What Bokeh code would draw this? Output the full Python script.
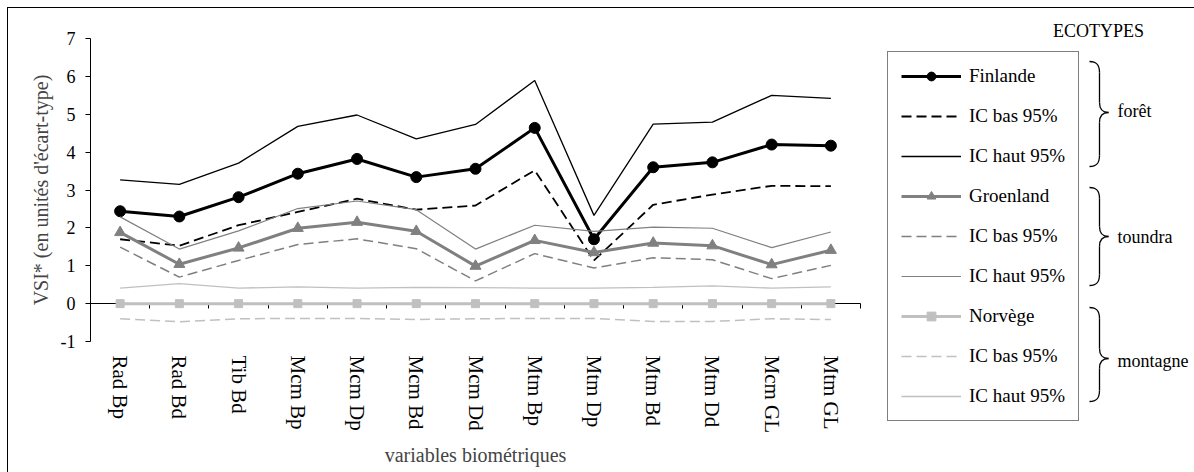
from bokeh.plotting import figure
from bokeh.models import (Range1d, FixedTicker, LinearAxis, Legend, LegendItem,
                          CustomJSTickFormatter)
from bokeh.embed import file_html
from bokeh.resources import INLINE
from bokeh.core.properties import value

# ---------------- data ----------------
categories = ["Rad Bp", "Rad Bd", "Tib Bd", "Mcm Bp", "Mcm Dp", "Mcm Bd", "Mcm Dd",
              "Mtm Bp", "Mtm Dp", "Mtm Bd", "Mtm Dd", "Mcm GL", "Mtm GL"]

finlande = [2.44, 2.30, 2.81, 3.43, 3.82, 3.34, 3.56, 4.64, 1.70, 3.60, 3.73, 4.20, 4.17]
finlande_bas = [1.70, 1.53, 2.07, 2.42, 2.77, 2.48, 2.59, 3.52, 1.14, 2.61, 2.88, 3.11, 3.10]
finlande_haut = [3.27, 3.15, 3.71, 4.68, 4.98, 4.35, 4.73, 5.89, 2.33, 4.74, 4.79, 5.50, 5.42]

groenland = [1.88, 1.04, 1.47, 1.99, 2.15, 1.91, 0.99, 1.67, 1.35, 1.60, 1.53, 1.03, 1.41]
groenland_bas = [1.49, 0.70, 1.14, 1.56, 1.71, 1.45, 0.60, 1.32, 0.94, 1.21, 1.16, 0.66, 1.01]
groenland_haut = [2.29, 1.44, 1.92, 2.51, 2.71, 2.48, 1.44, 2.07, 1.91, 2.02, 1.99, 1.48, 1.89]

norvege = [0.0, 0.0, 0.0, 0.0, 0.0, 0.0, 0.0, 0.0, 0.0, 0.0, 0.0, 0.0, 0.0]
norvege_bas = [-0.40, -0.48, -0.40, -0.39, -0.39, -0.42, -0.40, -0.39, -0.39, -0.47, -0.47, -0.40, -0.42]
norvege_haut = [0.41, 0.53, 0.41, 0.44, 0.41, 0.43, 0.42, 0.41, 0.41, 0.43, 0.47, 0.41, 0.44]

y_ticks = [-1, 0, 1, 2, 3, 4, 5, 6, 7]
legend_labels = ["Finlande", "IC bas 95%", "IC haut 95%",
                 "Groenland", "IC bas 95%", "IC haut 95%",
                 "Norvège", "IC bas 95%", "IC haut 95%"]
groups = ["forêt", "toundra", "montagne"]

FONT = "Liberation Serif, Times New Roman, serif"
BLACK, GREY, LIGHT = "#000000", "#808080", "#c0c0c0"

series = [
    (finlande, dict(line_color=BLACK, line_width=3), ("circle", 11, BLACK)),
    (finlande_bas, dict(line_color=BLACK, line_width=1.8, line_dash="10 5"), None),
    (finlande_haut, dict(line_color=BLACK, line_width=1.3), None),
    (groenland, dict(line_color=GREY, line_width=3), ("triangle", 11, GREY)),
    (groenland_bas, dict(line_color=GREY, line_width=1.5, line_dash="10 5"), None),
    (groenland_haut, dict(line_color=GREY, line_width=1.2), None),
    (norvege, dict(line_color=LIGHT, line_width=3), ("square", 8, LIGHT)),
    (norvege_bas, dict(line_color=LIGHT, line_width=1.5, line_dash="10 5"), None),
    (norvege_haut, dict(line_color=LIGHT, line_width=1.3), None),
]

xs = list(range(1, len(categories) + 1))
n = len(categories)

# ---------------- layout geometry (canvas pixels) ----------------
W, H = 1186, 464
PLOT_L, PLOT_R, PLOT_T, PLOT_B = 82, 852, 30, 333      # data area inside the canvas
x_px = (PLOT_R - PLOT_L) / n                           # px per category
y_px = (PLOT_B - PLOT_T) / (y_ticks[-1] - y_ticks[0])  # px per unit
x_range = Range1d(0.5 - PLOT_L / x_px, n + 0.5 + (W - PLOT_R) / x_px)
y_range = Range1d(y_ticks[0] - (H - PLOT_B) / y_px, y_ticks[-1] + PLOT_T / y_px)

p = figure(width=W, height=H, x_range=x_range, y_range=y_range,
           output_backend="svg", toolbar_location=None,
           x_axis_type=None, y_axis_type=None, min_border=0)
p.outline_line_color = None
p.background_fill_color = "white"
p.border_fill_color = "white"
p.styles = {"position": "relative", "left": "8px", "top": "8px",
            "outline": "1px solid black"}

# helper ranges in page-pixel units for the decorations beside the legend
p.extra_x_ranges = {"px": Range1d(8, 8 + W)}
p.extra_y_ranges = {"py": Range1d(8 + H, 8)}

yaxis = LinearAxis(fixed_location=0.5, bounds=(y_ticks[0], y_ticks[-1]),
                   ticker=FixedTicker(ticks=y_ticks),
                   major_label_overrides={-1: "-1"},
                   axis_label="VSI* (en unités d'écart-type)")
yaxis.major_tick_out = 5
yaxis.major_tick_in = 0
yaxis.minor_tick_line_color = None
yaxis.axis_line_color = BLACK
yaxis.major_label_standoff = 10
yaxis.major_label_text_font = FONT
yaxis.major_label_text_font_size = "18px"
yaxis.major_label_text_color = BLACK
yaxis.axis_label_text_font = FONT
yaxis.axis_label_text_font_style = "normal"
yaxis.axis_label_text_font_size = "20px"
yaxis.axis_label_standoff = 6
p.add_layout(yaxis, "left")

xcat = LinearAxis(fixed_location=y_ticks[0], bounds=(0.5, n + 0.5),
                  ticker=FixedTicker(ticks=xs),
                  major_label_overrides={x: c for x, c in zip(xs, categories)},
                  axis_label="variables biométriques")
xcat.major_label_orientation = "vertical"
xcat.axis_line_color = None
xcat.major_tick_line_color = None
xcat.minor_tick_line_color = None
xcat.major_label_standoff = 8
xcat.major_label_text_font = FONT
xcat.major_label_text_font_size = "21px"
xcat.major_label_text_color = BLACK
xcat.axis_label_text_font = FONT
xcat.axis_label_text_font_style = "normal"
xcat.axis_label_text_font_size = "20px"
xcat.axis_label_standoff = 8
p.add_layout(xcat, "below")

# horizontal axis line at y = 0 with tick marks between categories (drawn under the series)
xzero = LinearAxis(fixed_location=0, bounds=(0.5, n + 0.5),
                   ticker=FixedTicker(ticks=[x - 0.5 for x in xs] + [n + 0.5]),
                   formatter=CustomJSTickFormatter(code="return ''"))
xzero.major_tick_in = 0
xzero.major_tick_out = 5
xzero.minor_tick_line_color = None
xzero.axis_line_color = BLACK
xzero.major_label_standoff = 0
xzero.major_label_text_font_size = "1px"
xzero.level = "underlay"
p.add_layout(xzero, "below")

items = []
for label, (vals, lstyle, marker) in zip(legend_labels, series):
    rs = [p.line(xs, vals, **lstyle)]
    if marker is not None:
        m, s, c = marker
        rs.append(p.scatter(xs, vals, marker=m, size=s, fill_color=c, line_color=c))
    items.append(LegendItem(label=label, renderers=rs))

# legend box: left at page x=887, bottom at page y=421
legend = Legend(items=items, location=(887 - 8, 8 + H - 421))
legend.border_line_color = BLACK
legend.border_line_width = 1
legend.background_fill_color = "white"
legend.background_fill_alpha = 1
legend.label_text_font = FONT
legend.label_text_font_size = "19px"
legend.label_text_color = BLACK
legend.glyph_width = 60
legend.glyph_height = 22
legend.label_height = 22
legend.spacing = 18
legend.padding = 13
legend.margin = 0
legend.label_standoff = 8
p.add_layout(legend, "center")

p.text(x=[1098], y=[30], text=["ECOTYPES"], text_align="center", text_baseline="middle",
       text_font=value(FONT), text_font_size="18px", text_color=BLACK,
       x_range_name="px", y_range_name="py")

group_mid = [112, 236, 358]
group_top = [61, 187, 307]
group_bot = [166, 285, 401]
p.text(x=[1117] * 3, y=[110, 236, 360], text=groups, text_align="left",
       text_baseline="middle", text_font=value(FONT), text_font_size="18px",
       text_color=BLACK, x_range_name="px", y_range_name="py")

# curly braces
xl, xsp, xt = 1089, 1099, 1108
bx0, by0, bx1, by1, bcx0, bcy0, bcx1, bcy1 = [], [], [], [], [], [], [], []
sx0, sy0, sx1, sy1 = [], [], [], []
for top, mid, bot in zip(group_top, group_mid, group_bot):
    curves = [
        ((xl, top), (xsp, top + 11), (xsp - 3, top), (xsp, top + 3)),
        ((xsp, mid - 10), (xt, mid), (xsp, mid - 3), (xt - 5, mid)),
        ((xt, mid), (xsp, mid + 10), (xt - 5, mid), (xsp, mid + 3)),
        ((xsp, bot - 11), (xl, bot), (xsp, bot - 3), (xsp - 3, bot)),
    ]
    for a, b, c0, c1 in curves:
        bx0.append(a[0]); by0.append(a[1]); bx1.append(b[0]); by1.append(b[1])
        bcx0.append(c0[0]); bcy0.append(c0[1]); bcx1.append(c1[0]); bcy1.append(c1[1])
    sx0 += [xsp, xsp]; sy0 += [top + 11, mid + 10]
    sx1 += [xsp, xsp]; sy1 += [mid - 10, bot - 11]
p.bezier(x0=bx0, y0=by0, x1=bx1, y1=by1, cx0=bcx0, cy0=bcy0, cx1=bcx1, cy1=bcy1,
         line_color=BLACK, line_width=1.3, x_range_name="px", y_range_name="py")
p.segment(x0=sx0, y0=sy0, x1=sx1, y1=sy1, line_color=BLACK, line_width=1.3,
          x_range_name="px", y_range_name="py")

open("out.html", "w").write(file_html(p, INLINE))
